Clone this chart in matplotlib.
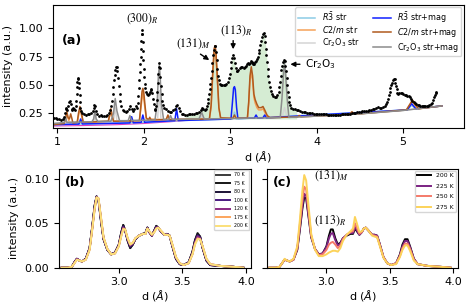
"""
Neutron diffraction refinement (a) and temperature series (b), (c)
"""

import matplotlib
matplotlib.use("Agg")
import matplotlib.pyplot as plt
from matplotlib.lines import Line2D


# ---------------- DATA ----------------
# (a) observed profile: (d, intensity)
obs = [(0.96, .21), (0.98, .205), (1.00, .20), (1.02, .20), (1.04, .195), (1.06, .20), (1.075, .22),
       (1.085, .25), (1.095, .29), (1.105, .30), (1.115, .28), (1.125, .31), (1.135, .35), (1.145, .36),
       (1.155, .33), (1.165, .29), (1.175, .28), (1.185, .30), (1.195, .29), (1.205, .28), (1.212, .31),
       (1.218, .36), (1.223, .42), (1.228, .48), (1.233, .53), (1.238, .565), (1.243, .55), (1.248, .52),
       (1.253, .47), (1.258, .41), (1.263, .35), (1.268, .30), (1.275, .27), (1.29, .25), (1.31, .24),
       (1.33, .235), (1.35, .24), (1.37, .24), (1.39, .25), (1.41, .27), (1.42, .30), (1.43, .32),
       (1.44, .31), (1.45, .27), (1.465, .24), (1.48, .23), (1.50, .235), (1.52, .23), (1.54, .225),
       (1.56, .23), (1.58, .235), (1.60, .25), (1.61, .28), (1.62, .31), (1.63, .36), (1.64, .42),
       (1.648, .48), (1.656, .54), (1.664, .59), (1.672, .63), (1.68, .655), (1.688, .66), (1.696, .62),
       (1.704, .56), (1.712, .49), (1.72, .42), (1.73, .36), (1.74, .31), (1.755, .28), (1.77, .27),
       (1.79, .26), (1.81, .27), (1.83, .29), (1.845, .31), (1.86, .29), (1.875, .27), (1.89, .29),
       (1.905, .31), (1.92, .30), (1.93, .34), (1.937, .40), (1.944, .47), (1.95, .54), (1.955, .61),
       (1.96, .68), (1.964, .75), (1.968, .82), (1.972, .89), (1.976, .95), (1.98, .985), (1.984, .95),
       (1.988, .88), (1.992, .80), (1.996, .72), (2.00, .64), (2.006, .57), (2.013, .51), (2.02, .47),
       (2.03, .44), (2.04, .42), (2.05, .41), (2.06, .42), (2.07, .44), (2.08, .455), (2.09, .46),
       (2.10, .43), (2.108, .38), (2.116, .33), (2.125, .29), (2.135, .28), (2.145, .31), (2.152, .37),
       (2.158, .44), (2.164, .52), (2.17, .60), (2.176, .66), (2.182, .69), (2.188, .65), (2.194, .57),
       (2.20, .49), (2.207, .42), (2.215, .36), (2.225, .32), (2.24, .30), (2.26, .29), (2.28, .27),
       (2.30, .26), (2.32, .265), (2.34, .28), (2.36, .29), (2.375, .31), (2.39, .32), (2.405, .30),
       (2.42, .27), (2.44, .245), (2.46, .24), (2.48, .235), (2.50, .235), (2.52, .24), (2.54, .24),
       (2.56, .24), (2.58, .245), (2.60, .25), (2.62, .25), (2.64, .26), (2.66, .28), (2.675, .30),
       (2.69, .29), (2.705, .28), (2.72, .29), (2.73, .31), (2.74, .34), (2.748, .38), (2.756, .42),
       (2.764, .46), (2.772, .51), (2.78, .56), (2.788, .62), (2.796, .69), (2.804, .76), (2.812, .81),
       (2.82, .845), (2.828, .84), (2.836, .79), (2.844, .72), (2.852, .64), (2.86, .58), (2.87, .54),
       (2.88, .51), (2.895, .50), (2.91, .495), (2.925, .495), (2.94, .50), (2.955, .51), (2.97, .53),
       (2.985, .56), (2.995, .60), (3.005, .65), (3.015, .70), (3.025, .74), (3.035, .765), (3.045, .74),
       (3.055, .69), (3.065, .645), (3.075, .62), (3.085, .625), (3.095, .635), (3.11, .65), (3.125, .66),
       (3.14, .655), (3.155, .65), (3.17, .66), (3.185, .67), (3.20, .68), (3.21, .69), (3.22, .68),
       (3.23, .695), (3.24, .71), (3.25, .70), (3.26, .69), (3.27, .68), (3.28, .685), (3.29, .70),
       (3.30, .715), (3.31, .73), (3.32, .75), (3.33, .78), (3.34, .81), (3.35, .85), (3.36, .89),
       (3.37, .925), (3.38, .95), (3.39, .96), (3.40, .93), (3.407, .88), (3.414, .82), (3.421, .76),
       (3.428, .70), (3.435, .64), (3.443, .58), (3.452, .53), (3.462, .48), (3.472, .45), (3.485, .42),
       (3.50, .405), (3.515, .395), (3.53, .395), (3.545, .41), (3.56, .44), (3.57, .48), (3.578, .53),
       (3.586, .58), (3.594, .63), (3.602, .67), (3.61, .70), (3.62, .72), (3.63, .71), (3.638, .67),
       (3.646, .62), (3.654, .56), (3.662, .50), (3.67, .44), (3.678, .39), (3.686, .35), (3.695, .32),
       (3.71, .30), (3.73, .29), (3.75, .285), (3.77, .28), (3.79, .275), (3.81, .27), (3.83, .265),
       (3.85, .262), (3.87, .26), (3.89, .257), (3.91, .255), (3.93, .252), (3.95, .25), (3.97, .248),
       (3.99, .246), (4.01, .245), (4.03, .243), (4.05, .242), (4.07, .24), (4.09, .24), (4.11, .24),
       (4.13, .238), (4.15, .238), (4.17, .237), (4.19, .236), (4.21, .236), (4.23, .237), (4.25, .237),
       (4.27, .238), (4.29, .24), (4.31, .24), (4.33, .242), (4.35, .243), (4.37, .245), (4.39, .248),
       (4.41, .25), (4.43, .253), (4.45, .255), (4.47, .258), (4.49, .262), (4.51, .265), (4.53, .27),
       (4.55, .272), (4.57, .268), (4.59, .27), (4.61, .275), (4.63, .28), (4.65, .285), (4.67, .29),
       (4.69, .30), (4.71, .305), (4.73, .30), (4.75, .30), (4.77, .305), (4.79, .315), (4.805, .33),
       (4.815, .35), (4.825, .38), (4.835, .41), (4.845, .44), (4.855, .47), (4.865, .50), (4.875, .52),
       (4.885, .54), (4.895, .555), (4.905, .55), (4.913, .52), (4.92, .49), (4.927, .46), (4.935, .43),
       (4.945, .42), (4.96, .425), (4.975, .43), (4.99, .425), (5.005, .42), (5.02, .415), (5.035, .41),
       (5.05, .405), (5.065, .40), (5.08, .39), (5.095, .375), (5.11, .36), (5.125, .35), (5.14, .34),
       (5.155, .33), (5.17, .325), (5.185, .32), (5.20, .315), (5.215, .31), (5.23, .31), (5.245, .31),
       (5.26, .31), (5.275, .31), (5.29, .315), (5.305, .32), (5.32, .33), (5.335, .345), (5.35, .37),
       (5.36, .39), (5.37, .41), (5.378, .43), (5.385, .44)]

# (a) calculated phase contributions: (d, intensity)
cr2o3_mag = [(0.96, .16), (1.08, .168), (1.095, .22), (1.11, .17), (1.40, .175), (1.42, .2), (1.435, .27),
             (1.45, .2), (1.47, .178), (1.62, .18), (1.65, .25), (1.67, .38), (1.69, .27), (1.72, .185),
             (1.82, .185), (1.84, .23), (1.86, .187), (2.13, .19), (2.155, .33), (2.17, .58), (2.18, .67),
             (2.19, .58), (2.205, .33), (2.23, .195), (2.29, .195), (2.31, .23), (2.33, .196), (2.64, .2),
             (2.67, .26), (2.70, .2), (3.58, .212), (3.60, .38), (3.62, .62), (3.63, .69), (3.64, .62),
             (3.66, .38), (3.68, .214), (4.0, .225), (4.5, .245), (5.0, .275), (5.45, .315)]
cr2o3_str = [(0.96, .16), (1.08, .168), (1.095, .2), (1.11, .17), (1.42, .176), (1.435, .22), (1.45, .177),
             (1.65, .182), (1.67, .30), (1.69, .183), (2.16, .19), (2.18, .45), (2.20, .192), (2.65, .2),
             (2.67, .23), (2.69, .2), (3.60, .212), (3.63, .30), (3.66, .213), (4.0, .225), (4.5, .245),
             (5.0, .275), (5.45, .315)]
c2m_mag = [(0.96, .15), (1.08, .16), (1.095, .21), (1.11, .265), (1.125, .21), (1.14, .2), (1.155, .245),
           (1.17, .2), (1.18, .165), (1.23, .17), (1.245, .25), (1.262, .31), (1.28, .25), (1.30, .17),
           (1.59, .18), (1.605, .23), (1.62, .29), (1.635, .23), (1.65, .18), (1.95, .185), (1.965, .3),
           (1.98, .44), (1.99, .47), (2.0, .44), (2.015, .32), (2.03, .21), (2.055, .19), (2.07, .215),
           (2.085, .19), (2.26, .195), (2.28, .235), (2.30, .195), (2.76, .2), (2.78, .32), (2.80, .63),
           (2.815, .82), (2.825, .845), (2.835, .8), (2.85, .6), (2.87, .3), (2.89, .21), (3.03, .205),
           (3.05, .235), (3.07, .206), (3.20, .208), (3.215, .35), (3.23, .58), (3.245, .66), (3.26, .58),
           (3.275, .42), (3.29, .37), (3.31, .33), (3.33, .30), (3.36, .30), (3.38, .31), (3.40, .28),
           (3.43, .23), (3.46, .212), (3.78, .218), (3.80, .23), (3.82, .219), (4.38, .24), (4.41, .264),
           (4.44, .242), (5.04, .28), (5.08, .33), (5.11, .367), (5.14, .33), (5.18, .29), (5.45, .315)]
c2m_str = [(0.96, .15), (1.08, .16), (1.11, .245), (1.14, .17), (1.23, .17), (1.262, .29), (1.30, .17),
           (1.59, .18), (1.62, .27), (1.65, .18), (1.95, .185), (1.99, .44), (2.03, .2), (2.26, .195),
           (2.28, .225), (2.30, .195), (2.76, .2), (2.78, .3), (2.80, .6), (2.815, .78), (2.825, .80),
           (2.835, .76), (2.85, .57), (2.87, .29), (2.89, .21), (3.20, .208), (3.215, .33), (3.23, .54),
           (3.245, .61), (3.26, .54), (3.275, .39), (3.29, .34), (3.31, .30), (3.33, .28), (3.36, .28),
           (3.38, .29), (3.40, .26), (3.43, .22), (3.46, .212), (4.38, .24), (4.41, .255), (4.44, .242),
           (5.04, .28), (5.08, .32), (5.11, .35), (5.14, .32), (5.18, .29), (5.45, .315)]
r3_mag = [(0.96, .15), (1.25, .155), (1.27, .2), (1.29, .156), (1.84, .165), (1.86, .22), (1.88, .166),
          (1.97, .17), (1.99, .235), (2.01, .171), (2.36, .185), (2.38, .29), (2.40, .186), (3.01, .2),
          (3.025, .33), (3.04, .47), (3.05, .485), (3.06, .46), (3.075, .3), (3.09, .205), (3.28, .207),
          (3.30, .235), (3.32, .207), (3.38, .21), (3.40, .235), (3.42, .21), (5.05, .28), (5.10, .335),
          (5.15, .29), (5.45, .315)]
r3_str = [(0.96, .15), (1.99, .17), (2.38, .185), (3.03, .2), (3.05, .26), (3.07, .2), (5.05, .28),
          (5.10, .32), (5.15, .29), (5.45, .315)]
bkg_low = [(0.96, .138), (1.3, .142), (1.7, .15), (2.0, .16), (2.3, .175), (2.6, .195)]

# (b), (c) temperature series
bot_d = [2.55, 2.60, 2.63, 2.65, 2.67, 2.69, 2.71, 2.74, 2.77, 2.79,
         2.81, 2.825, 2.84, 2.86, 2.88, 2.91, 2.94, 2.97, 3.00, 3.02,
         3.035, 3.05, 3.07, 3.09, 3.11, 3.13, 3.16, 3.19, 3.21, 3.225,
         3.24, 3.26, 3.28, 3.295, 3.31, 3.33, 3.36, 3.38, 3.40, 3.42,
         3.45, 3.48, 3.51, 3.55, 3.58, 3.60, 3.62, 3.64, 3.66, 3.69,
         3.72, 3.80, 3.90, 3.98]
I_70 = [0, 0, .001, .006, .010, .008, .007, .010, .022, .045,
        .070, .080, .076, .052, .032, .020, .015, .017, .026, .040,
        .048, .042, .030, .022, .026, .032, .036, .038, .039, .045,
        .040, .036, .042, .047, .045, .041, .037, .038, .036, .025,
        .010, .004, .003, .006, .018, .031, .039, .035, .022, .008,
        .003, .002, .001, 0]
I_75 = [0, 0, .001, .006, .010, .008, .007, .010, .022, .045,
        .070, .080, .076, .052, .032, .020, .015, .017, .026, .040,
        .048, .042, .030, .022, .026, .032, .036, .038, .039, .045,
        .040, .036, .042, .047, .045, .041, .037, .038, .036, .025,
        .010, .004, .003, .006, .018, .031, .038, .035, .022, .008,
        .003, .002, .001, 0]
I_80 = [0, 0, .001, .006, .010, .008, .007, .010, .022, .044,
        .069, .080, .077, .053, .032, .020, .015, .017, .025, .039,
        .047, .042, .031, .023, .026, .032, .036, .038, .039, .045,
        .040, .036, .042, .046, .045, .041, .037, .038, .036, .025,
        .010, .004, .003, .006, .017, .030, .037, .034, .022, .008,
        .003, .002, .001, 0]
I_100 = [0, 0, .001, .006, .010, .008, .007, .010, .021, .044,
         .068, .080, .077, .054, .033, .020, .015, .017, .025, .038,
         .046, .042, .031, .024, .027, .032, .036, .038, .038, .045,
         .040, .036, .041, .046, .045, .041, .037, .038, .036, .026,
         .011, .004, .003, .006, .016, .029, .036, .034, .023, .009,
         .003, .002, .001, 0]
I_120 = [0, 0, .001, .005, .010, .008, .007, .009, .021, .043,
         .067, .079, .077, .055, .033, .021, .015, .016, .025, .037,
         .045, .042, .032, .025, .027, .033, .036, .038, .038, .044,
         .040, .036, .041, .045, .045, .041, .037, .037, .036, .026,
         .011, .005, .003, .005, .016, .028, .035, .033, .023, .009,
         .004, .002, .001, 0]
I_175 = [0, 0, .001, .005, .009, .008, .007, .009, .020, .042,
         .066, .079, .078, .056, .034, .021, .015, .016, .024, .036,
         .044, .043, .033, .026, .028, .033, .036, .038, .038, .044,
         .041, .037, .040, .044, .045, .042, .037, .037, .036, .027,
         .012, .005, .003, .005, .015, .027, .033, .032, .024, .010,
         .004, .002, .001, 0]
I_200 = [0, 0, .001, .005, .009, .008, .007, .009, .020, .042,
         .066, .079, .078, .056, .034, .021, .015, .016, .024, .036,
         .043, .043, .033, .026, .028, .033, .036, .038, .038, .044,
         .041, .037, .040, .044, .045, .042, .037, .037, .036, .027,
         .012, .005, .003, .005, .015, .026, .032, .032, .024, .010,
         .004, .002, .001, 0]
I_225 = [0, 0, .001, .005, .009, .008, .007, .009, .021, .044,
         .069, .083, .081, .058, .035, .021, .015, .016, .023, .033,
         .038, .039, .031, .025, .027, .033, .037, .039, .039, .046,
         .042, .037, .040, .044, .045, .042, .037, .037, .036, .027,
         .012, .005, .003, .005, .014, .024, .030, .030, .023, .010,
         .004, .002, .001, 0]
I_250 = [0, 0, .001, .005, .009, .008, .007, .009, .022, .048,
         .076, .091, .088, .062, .036, .021, .014, .015, .020, .026,
         .028, .029, .026, .022, .025, .032, .037, .040, .041, .050,
         .045, .038, .040, .044, .045, .042, .037, .036, .035, .026,
         .012, .005, .003, .005, .013, .022, .027, .027, .021, .009,
         .004, .002, .001, 0]
I_275 = [0, 0, .001, .005, .010, .008, .007, .010, .024, .053,
         .086, .104, .098, .068, .038, .020, .013, .013, .015, .017,
         .018, .019, .019, .018, .022, .030, .037, .041, .044, .057,
         .050, .040, .041, .044, .045, .042, .036, .035, .034, .025,
         .011, .005, .003, .004, .012, .020, .025, .025, .019, .008,
         .004, .002, .001, 0]

temps_b = ['70 K', '75 K', '80 K', '100 K', '120 K', '175 K', '200 K']
curves_b = [I_70, I_75, I_80, I_100, I_120, I_175, I_200]
colors_b = ['#3a3a3a', '#161616', '#1c1236', '#4a1a80', '#8a2a82', '#fca55d', '#fbe07a']
temps_c = ['200 K', '225 K', '250 K', '275 K']
curves_c = [I_200, I_225, I_250, I_275]
colors_c = ['#000000', '#7b2382', '#f47a6a', '#fcd35a']


def split(pts):
    return [p[0] for p in pts], [p[1] for p in pts]


fig = plt.figure(figsize=(4.69, 3.07), dpi=100)
ax = fig.add_axes([0.113, 0.584, 0.876, 0.400])
axb = fig.add_axes([0.126, 0.128, 0.409, 0.322])
axc = fig.add_axes([0.569, 0.128, 0.408, 0.322])

# ---------- (a) ----------
od, oi = split(obs)
gd = [d for d in od if 2.48 <= d <= 3.78]
gi = [i for d, i in obs if 2.48 <= d <= 3.78]
ax.fill_between(gd, 0.2, gi, color='#d5ecd3', lw=0)

x, y = split(bkg_low)
ax.plot(x, y, color='#e040c0', lw=0.8)
for pts, col in [(r3_str, '#8ccbe6'), (c2m_str, '#f5a258'), (cr2o3_str, '#d4d4d4'),
                 (r3_mag, '#1020ff'), (c2m_mag, '#b05a1e'), (cr2o3_mag, '#8c8c8c')]:
    x, y = split(pts)
    ax.plot(x, y, color=col, lw=1.1)
ax.plot(od, oi, ls='none', marker='o', ms=2.0, mew=0, color='k')

ax.set_xlim(0.95, 5.705)
ax.set_ylim(0.123, 1.205)
ax.set_xticks([1, 2, 3, 4, 5])
ax.set_yticks([0.25, 0.5, 0.75, 1.0])
ax.tick_params(labelsize=8)
ax.set_xlabel(r'd ($\AA$)', fontsize=8, labelpad=1)
ax.set_ylabel('intensity (a.u.)', fontsize=8)
ax.text(0.022, 0.71, '(a)', transform=ax.transAxes, fontsize=9, fontweight='bold', va='center')

ax.text(1.985, 1.08, r'$(300)_R$', fontsize=8.5, ha='center', va='center', math_fontfamily='stix')
ax.text(2.57, 0.862, r'$(131)_M$', fontsize=8.5, ha='center', va='center', math_fontfamily='stix')
ax.annotate('', xy=(2.785, 0.705), xytext=(2.63, 0.785),
            arrowprops=dict(arrowstyle='-|>', color='k', lw=1, mutation_scale=7))
ax.text(3.07, 0.976, r'$(113)_R$', fontsize=8.5, ha='center', va='center', math_fontfamily='stix')
ax.annotate('', xy=(3.035, 0.79), xytext=(3.035, 0.915),
            arrowprops=dict(arrowstyle='-|>', color='k', lw=1, mutation_scale=7))
ax.annotate('', xy=(3.665, 0.682), xytext=(3.84, 0.682),
            arrowprops=dict(arrowstyle='-|>', color='k', lw=1, mutation_scale=7))
ax.text(3.87, 0.682, r'Cr$_2$O$_3$', fontsize=7.5, va='center')

handles = [Line2D([], [], color='#8ccbe6', lw=1.1), Line2D([], [], color='#f5a258', lw=1.1),
           Line2D([], [], color='#d4d4d4', lw=1.1), Line2D([], [], color='#1020ff', lw=1.1),
           Line2D([], [], color='#b05a1e', lw=1.1), Line2D([], [], color='#8c8c8c', lw=1.1)]
labels = [r'$\mathit{R}\bar{\mathit{3}}$ str', r'$\mathit{C2/m}$ str', r'Cr$_2$O$_3$ str',
          r'$\mathit{R}\bar{\mathit{3}}$ str+mag', r'$\mathit{C2/m}$ str+mag', r'Cr$_2$O$_3$ str+mag']
ax.legend(handles, labels, ncol=2, loc='upper right', fontsize=5.8, labelspacing=0.2,
          columnspacing=1.6, handlelength=2.2, borderaxespad=0.3, borderpad=0.3)

# ---------- (b) ----------
for lab, vals, col in zip(temps_b, curves_b, colors_b):
    axb.plot(bot_d, vals, color=col, lw=1.4, label=lab)
axb.set_xlim(2.53, 4.04)
axb.set_ylim(0, 0.111)
axb.set_xticks([3.0, 3.5, 4.0])
axb.set_yticks([0.0, 0.05, 0.10])
axb.tick_params(labelsize=8)
axb.set_xlabel(r'd ($\AA$)', fontsize=8, labelpad=0.5)
axb.set_ylabel('intensity (a.u.)', fontsize=8)
axb.text(0.03, 0.86, '(b)', transform=axb.transAxes, fontsize=9, fontweight='bold', va='center')
axb.legend(loc='upper right', fontsize=3.4, labelspacing=0.75, handlelength=3.0, borderaxespad=0.3)

# ---------- (c) ----------
for lab, vals, col in zip(temps_c, curves_c, colors_c):
    axc.plot(bot_d, vals, color=col, lw=1.4, label=lab)
axc.set_xlim(2.53, 4.04)
axc.set_ylim(0, 0.111)
axc.set_xticks([3.0, 3.5, 4.0])
axc.set_yticks([0.0, 0.05, 0.10])
axc.set_yticklabels([])
axc.tick_params(labelsize=8)
axc.set_xlabel(r'd ($\AA$)', fontsize=8, labelpad=0.5)
axc.text(0.03, 0.86, '(c)', transform=axc.transAxes, fontsize=9, fontweight='bold', va='center')
axc.text(3.04, 0.103, r'$(131)_M$', fontsize=8.5, ha='center', va='center', math_fontfamily='stix')
axc.text(3.03, 0.0525, r'$(113)_R$', fontsize=8.5, ha='center', va='center', math_fontfamily='stix')
axc.legend(loc='upper right', fontsize=4.4, labelspacing=0.85, handlelength=2.3, borderaxespad=0.3)

fig.savefig('out.png', dpi=100)
